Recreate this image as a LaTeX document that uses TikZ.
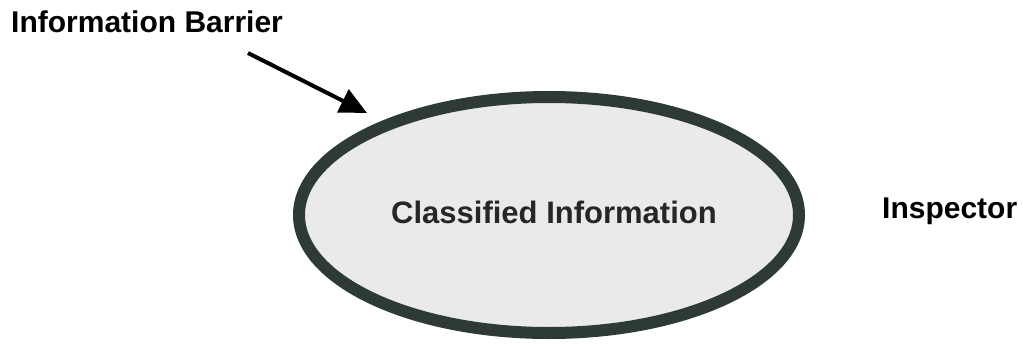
\documentclass[tikz,border=0pt]{standalone}
\usepackage{fontspec}
\setmainfont{Liberation Sans}
\usetikzlibrary{shapes.geometric,arrows.meta}
\definecolor{ringcol}{HTML}{2E3A37}
\definecolor{fillcol}{HTML}{EAEAEA}
\definecolor{txtcol}{HTML}{262626}
\tikzset{
  lbl/.style={inner sep=0pt, font=\fontsize{30}{36}\selectfont\bfseries, text=black},
  ring/.style={ellipse, draw=ringcol, line width=12pt, fill=fillcol, minimum width=500pt, minimum height=236pt, inner sep=0pt},
  pointer/.style={line width=4pt, -{Triangle[length=27pt,width=25pt]}}
}
\begin{document}
\begin{tikzpicture}[x=1pt,y=-1pt]
\useasboundingbox (0,0) rectangle (1023,345);
\node[ring] (barrier) at (549,215) {};
\node[lbl, text=txtcol, anchor=base, font=\fontsize{31}{36}\selectfont\bfseries] (ci) at (554,223) {Classified Information};
\node[lbl, anchor=base west] (ib) at (11,33) {Information Barrier};
\node[lbl, anchor=base west] (insp) at (882,218) {Inspector};
\coordinate (start) at (248,53);
\coordinate (tip) at (367,113);
\draw[pointer] (start) -- (tip);
\end{tikzpicture}
\end{document}
